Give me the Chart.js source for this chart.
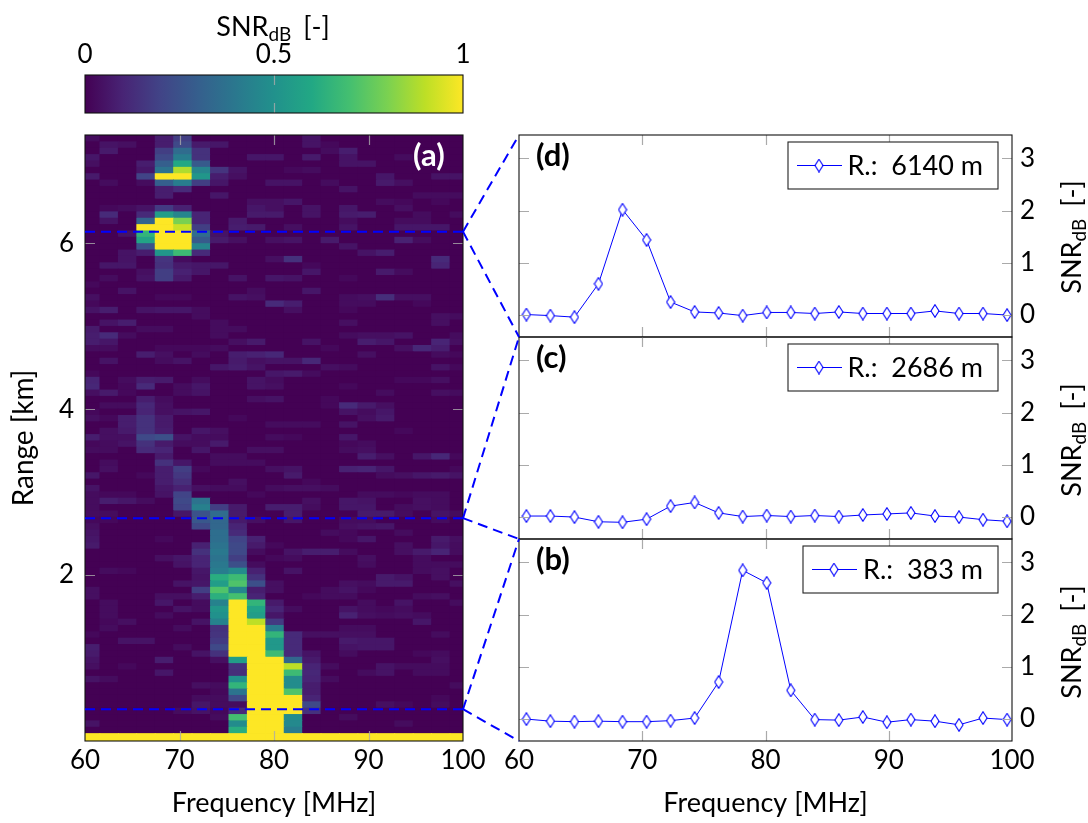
<!DOCTYPE html>
<html><head><meta charset="utf-8">
<script src="https://cdn.jsdelivr.net/npm/chart.js@4/dist/chart.umd.min.js"></script>
<style>
html,body{margin:0;padding:0;background:#fff;width:1088px;height:823px;overflow:hidden}
canvas{position:absolute}
.lab{position:absolute;font:27px Lato,sans-serif;color:#000;white-space:nowrap;transform-origin:center;z-index:5;word-spacing:5px}
.lab sub{font-size:19px;line-height:0;vertical-align:-5px}
</style></head><body>
<canvas id="cbar" style="left:0;top:40px;width:485px;height:83px"></canvas>
<canvas id="heat" style="left:0;top:125px;width:485px;height:698px"></canvas>
<canvas id="pd" style="left:490px;top:125px;width:598px;height:222px"></canvas>
<canvas id="pc" style="left:490px;top:327px;width:598px;height:222px"></canvas>
<canvas id="pb" style="left:490px;top:529px;width:598px;height:294px"></canvas>
<canvas id="over" style="left:0;top:0;width:1088px;height:823px;z-index:4;pointer-events:none"></canvas>
<div class="lab" style="left:273px;top:25px;transform:translate(-50%,-50%)">SNR<sub>dB</sub> [-]</div>
<div class="lab" style="left:1070px;top:237px;transform:translate(-50%,-50%) rotate(-90deg)">SNR<sub>dB</sub> [-]</div>
<div class="lab" style="left:1070px;top:440px;transform:translate(-50%,-50%) rotate(-90deg)">SNR<sub>dB</sub> [-]</div>
<div class="lab" style="left:1070px;top:642px;transform:translate(-50%,-50%) rotate(-90deg)">SNR<sub>dB</sub> [-]</div>
<script>
// ---- data ----
const freqMHz = [60.6,62.55,64.5,66.45,68.4,70.35,72.3,74.25,76.2,78.15,80.1,82.05,84,85.95,87.9,89.85,91.8,93.75,95.7,97.65,99.6];
const snr6140 = [0.01,-0.01,-0.04,0.6,2.02,1.44,0.25,0.06,0.04,-0.01,0.05,0.05,0.03,0.06,0.03,0.03,0.03,0.08,0.03,0.03,0];
const snr2686 = [0.02,0.02,0,-0.09,-0.1,-0.04,0.21,0.28,0.08,0.01,0.03,0.01,0.03,0.01,0.04,0.06,0.08,0.02,0,-0.05,-0.08];
const snr383 = [0,-0.04,-0.05,-0.04,-0.05,-0.05,-0.03,0.02,0.71,2.85,2.61,0.55,-0.01,-0.02,0.04,-0.06,-0.01,-0.04,-0.11,0.02,-0.01];
const freqTicks = [60,70,80,90,100];
const rangeTicks = [2,4,6];
const snrTicks = [0,1,2,3];
const barTicks = [0,0.5,1];
const cutRangesKm = [6.14,2.686,0.383];
// heat map cell values in percent of full scale, top row first, one column per freqMHz entry
const heatRows = [
[3,0,0,0,8,18,0,0,0,0,0,0,5,0,0,0,0,0,0,0,0],
[0,5,4,0,8,22,7,6,0,0,0,0,5,2,0,0,0,0,0,0,0],
[0,7,0,0,18,35,14,0,0,0,0,0,0,3,8,0,0,0,0,0,0],
[6,0,0,0,22,42,14,0,0,6,6,0,7,0,5,0,0,3,0,0,0],
[4,0,0,8,30,60,28,0,0,0,0,0,0,0,5,5,0,0,0,0,0],
[0,0,0,6,38,88,45,15,5,0,0,2,3,0,0,0,0,0,0,0,0],
[7,0,0,20,100,100,52,8,4,0,0,0,0,0,0,0,6,0,0,5,5],
[0,3,0,3,30,42,18,6,0,0,5,5,0,3,0,0,7,4,0,0,0],
[0,0,0,0,8,12,0,0,0,0,0,0,0,0,5,0,0,0,0,0,0],
[0,0,0,0,8,0,0,6,0,0,0,0,0,0,0,0,0,0,3,3,3],
[0,0,0,0,0,0,0,0,0,4,4,6,0,0,0,0,3,2,0,2,0],
[0,2,3,5,17,9,0,0,0,6,4,0,5,0,6,0,0,4,0,0,0],
[0,12,0,12,55,45,10,0,0,7,7,0,5,0,7,8,0,0,3,0,3],
[0,5,0,32,100,80,10,0,7,0,0,0,0,0,3,0,0,3,3,0,0],
[0,0,0,100,100,92,18,0,8,7,0,4,0,0,5,0,0,6,6,6,0],
[0,0,5,65,100,100,35,5,0,0,0,0,0,0,0,0,0,0,0,0,0],
[0,0,0,58,100,100,28,7,4,0,4,5,0,7,0,0,0,9,3,0,0],
[0,0,0,25,100,100,45,0,0,0,0,0,0,0,5,0,0,0,0,0,0],
[0,0,5,8,52,68,12,0,0,0,0,0,0,0,0,5,8,0,0,0,0],
[0,0,5,0,15,3,0,0,0,0,4,14,0,0,0,0,0,0,0,12,0],
[0,6,6,0,14,7,6,6,0,0,0,0,2,0,0,0,0,0,0,10,0],
[0,0,0,4,18,9,6,0,0,0,0,0,6,0,0,0,7,3,0,0,0],
[0,3,0,5,18,7,0,0,5,0,6,5,0,0,2,0,0,0,0,0,0],
[2,0,0,0,0,0,0,0,0,0,0,0,0,0,0,0,0,0,0,0,0],
[0,0,5,0,0,0,0,0,0,3,0,0,6,0,0,0,0,0,0,0,0],
[4,0,0,0,2,2,0,0,5,4,0,0,0,0,3,4,13,4,4,0,0],
[2,0,0,0,0,0,0,0,0,0,12,8,0,0,3,3,0,0,2,0,0],
[5,8,0,5,6,6,3,0,0,0,0,4,0,0,2,0,0,0,0,0,0],
[0,0,0,0,0,0,3,0,0,0,0,0,0,0,0,0,0,0,0,4,3],
[0,5,8,0,0,0,0,3,0,0,0,0,0,0,4,0,0,0,0,4,0],
[7,0,0,3,3,0,0,3,3,0,0,0,0,0,0,0,0,0,0,0,0],
[8,12,3,0,0,0,0,3,0,0,0,0,0,0,3,4,4,5,0,0,3],
[8,6,0,0,0,0,0,0,4,7,0,0,5,0,0,8,6,0,0,10,4],
[3,3,0,0,2,2,2,3,0,0,0,0,0,2,0,0,0,4,11,8,0],
[0,0,0,8,4,0,3,0,8,9,11,0,0,0,0,4,0,0,0,3,2],
[0,5,0,0,3,5,0,0,7,4,5,5,11,0,0,0,0,0,0,0,0],
[0,0,0,0,0,0,0,6,8,5,0,0,0,4,3,0,0,0,0,5,2],
[2,0,0,0,0,0,0,0,0,0,6,7,3,0,0,0,0,0,0,0,0],
[10,0,3,8,7,0,3,0,0,5,3,0,0,0,0,0,0,2,2,4,0],
[11,0,2,12,0,3,6,0,0,5,4,0,0,0,2,0,0,0,0,0,0],
[4,7,2,0,0,3,5,0,0,0,0,0,0,0,0,0,3,0,0,4,3],
[0,0,0,8,3,0,0,0,0,4,5,0,0,2,0,0,0,0,0,0,0],
[0,3,3,11,4,0,0,0,0,0,0,0,0,2,12,7,4,0,0,0,0],
[2,0,0,10,4,5,6,0,0,0,0,0,0,0,5,3,6,0,0,0,0],
[4,2,8,14,7,0,0,0,2,0,0,0,0,0,0,4,7,0,0,0,0],
[0,0,8,14,7,0,0,0,0,0,3,3,3,0,5,0,0,0,0,0,0],
[0,4,7,14,8,0,6,4,0,0,0,0,0,0,0,0,0,2,0,0,0],
[8,4,4,22,24,5,3,3,0,0,3,2,0,0,6,0,0,0,0,0,0],
[2,3,5,14,7,3,3,7,0,0,0,0,0,0,2,3,0,0,0,0,0],
[3,3,0,12,10,0,6,0,0,4,4,0,0,0,3,4,0,0,0,0,0],
[0,0,0,0,7,0,0,3,3,0,0,0,0,0,0,8,4,0,6,11,2],
[0,3,0,0,14,6,0,3,3,3,0,0,0,0,0,0,0,0,0,0,0],
[0,4,0,0,8,18,2,0,0,0,4,5,0,0,9,10,6,0,0,0,2],
[6,0,0,2,8,16,0,0,0,0,0,7,0,0,0,0,3,4,6,7,5],
[0,0,0,0,8,13,0,0,4,0,0,0,2,0,0,0,0,0,0,0,0],
[5,0,0,0,6,9,4,3,3,0,3,4,4,3,0,0,0,0,0,0,0],
[3,2,2,0,5,20,0,0,0,2,0,0,0,0,0,3,3,2,3,3,0],
[3,8,6,3,0,22,38,0,0,0,0,0,4,0,6,5,0,0,4,3,0],
[3,0,0,0,0,20,43,18,7,0,8,8,3,0,6,6,0,3,4,3,0],
[3,3,0,0,0,6,25,35,7,0,0,8,0,0,0,7,7,3,0,5,3],
[2,2,0,0,0,0,27,33,7,4,0,6,0,0,3,3,0,0,0,3,0],
[4,0,0,0,0,0,22,33,10,0,0,0,0,0,4,5,6,0,0,0,0],
[5,0,0,0,0,0,0,36,12,0,0,0,0,3,2,0,0,3,0,0,0],
[6,0,0,0,2,0,0,36,20,9,0,0,0,0,2,6,0,0,0,7,4],
[7,0,0,0,0,0,9,38,22,7,2,0,0,0,0,0,0,4,0,6,3],
[0,0,0,0,0,0,14,40,22,3,0,5,8,8,3,0,0,4,7,10,3],
[0,0,0,0,4,6,10,38,18,0,2,3,0,0,0,4,0,0,3,0,0],
[0,0,0,0,0,5,10,40,24,3,0,0,0,0,0,3,0,0,3,3,3],
[0,3,2,0,0,0,6,42,48,9,0,5,0,0,0,0,0,0,3,4,0],
[0,0,0,0,0,0,5,62,68,14,0,0,0,0,0,0,7,5,0,4,0],
[0,0,0,0,0,5,6,55,72,24,4,0,0,0,4,3,7,7,0,0,4],
[4,0,0,0,0,0,18,72,46,8,4,0,0,3,5,2,0,0,0,0,0],
[4,0,0,0,4,4,8,63,70,10,0,0,2,3,3,0,0,0,3,4,0],
[0,3,0,0,6,0,3,44,100,65,7,0,0,0,0,3,0,5,0,0,3],
[0,3,0,0,0,5,3,52,100,58,10,3,0,0,5,3,2,3,0,0,0],
[0,3,0,0,3,0,0,50,100,55,6,0,0,0,9,4,3,4,3,0,0],
[0,2,4,0,0,0,5,44,100,90,17,0,0,0,0,0,0,0,6,0,0],
[0,3,0,0,0,3,0,14,100,100,42,0,0,0,3,3,0,0,0,0,0],
[2,0,0,0,0,0,0,15,100,100,65,12,4,4,4,4,0,0,0,3,0],
[0,0,5,5,0,0,0,17,100,100,53,12,0,0,7,6,6,0,0,0,0],
[8,0,0,0,0,3,0,22,100,100,53,12,0,0,5,6,6,0,0,0,0],
[7,0,0,0,0,0,5,14,100,100,68,12,5,0,3,0,0,0,2,3,0],
[5,0,0,0,8,0,0,4,55,100,100,33,7,0,0,0,0,0,0,4,0],
[4,0,2,0,0,0,0,0,14,100,100,90,10,3,0,0,5,3,3,3,0],
[0,0,0,0,6,0,0,0,13,100,100,68,11,0,0,3,5,0,3,3,0],
[5,3,0,0,0,0,0,0,50,100,100,48,10,3,0,0,0,0,0,0,0],
[0,0,0,0,0,0,4,3,65,100,100,48,8,0,0,0,0,0,0,0,3],
[0,0,0,0,0,0,0,2,38,100,100,72,8,0,0,0,0,0,0,0,0],
[0,0,0,0,0,0,3,3,22,100,100,100,10,0,0,0,0,0,0,2,0],
[0,0,0,0,0,0,6,3,3,100,100,100,22,0,0,0,4,2,0,3,0],
[0,0,0,0,0,3,5,2,12,100,100,100,14,0,0,0,0,0,0,0,0],
[0,0,0,0,0,0,0,3,70,100,100,48,0,0,3,0,0,0,0,0,0],
[5,0,0,0,0,0,0,0,48,100,100,47,0,0,0,0,0,3,0,0,0],
[0,0,0,0,0,0,0,0,62,100,100,42,0,0,0,0,0,0,0,0,0],
[100,100,100,100,100,100,100,100,100,100,100,100,100,100,100,100,100,100,100,100,100]
];
const viridisStops = ['#440154','#482475','#414487','#355f8d','#2a788e','#21918c','#22a884','#44bf70','#7ad151','#bddf26','#fde725'];

// ---- helpers ----
const FONT = 'Lato, sans-serif';
const tickFont = {family:FONT,size:26,lineHeight:1.1};
const titleFont = {family:FONT,size:27};
const rowHeightKm = 0.0767, bottomRowKm = 0.09, rangeMaxKm = 7.305;
Chart.defaults.animation = false;
Chart.defaults.responsive = false;
Chart.defaults.events = [];
Chart.defaults.plugins.legend.display = false;
Chart.defaults.plugins.tooltip.enabled = false;

function hexRgb(h){return [1,3,5].map(i=>parseInt(h.substr(i,2),16));}
function viridis(pct){
  const p = Math.max(0,Math.min(1,pct/100))*(viridisStops.length-1);
  const i = Math.min(Math.floor(p),viridisStops.length-2), f = p-i;
  const a = hexRgb(viridisStops[i]), b = hexRgb(viridisStops[i+1]);
  return 'rgb('+a.map((v,k)=>Math.round(v+(b[k]-v)*f)).join(',')+')';
}
function sizeCanvas(id){const c=document.getElementById(id);c.width=parseInt(c.style.width);c.height=parseInt(c.style.height);return c;}

function setTicks(list){return s=>{s.ticks=list.map(value=>({value}));};}
function fixBox(s,w,h){
  if(w!==null) s.width=w;
  if(h!==null) s.height=h;
  s.paddingLeft=s.paddingRight=s.paddingTop=s.paddingBottom=0;
}
function axis(o){
  return Object.assign({
    offset:false,
    grid:{display:false,drawTicks:false,offset:false},
    border:{display:false},
  },o);
}
function tickStyle(padding){return {font:tickFont,color:'#000',padding,autoSkip:false,maxRotation:0,minRotation:0,callback:v=>String(v)};}

// inner grey ticks + frame
const framePlugin = {
  id:'frame',
  afterDatasetsDraw(chart,args,o){
    const {ctx,chartArea:a,scales}=chart;
    ctx.save();
    ctx.lineWidth=1.2; ctx.strokeStyle=o.tickColor;
    const L=o.len||10;
    ctx.beginPath();
    (o.xTicks||[]).forEach(v=>{const x=Math.round(scales.x.getPixelForValue(v))+.5;
      ctx.moveTo(x,a.top);ctx.lineTo(x,a.top+L);ctx.moveTo(x,a.bottom);ctx.lineTo(x,a.bottom-L);});
    (o.yTicks||[]).forEach(v=>{const y=Math.round(scales.y.getPixelForValue(v))+.5;
      ctx.moveTo(a.left,y);ctx.lineTo(a.left+L,y);ctx.moveTo(a.right,y);ctx.lineTo(a.right-L,y);});
    ctx.stroke();
    ctx.lineWidth=1.1; ctx.strokeStyle='#111';
    ctx.strokeRect(a.left,a.top,a.right-a.left,a.bottom-a.top);
    if(o.tag){
      ctx.font='bold 31px '+FONT; ctx.fillStyle=o.tagColor; ctx.textBaseline='middle';
      ctx.textAlign='left'; ctx.fillText(o.tag,a.left+o.tagX,a.top+o.tagY);
    }
    ctx.restore();
  }
};

// diamond marker
function diamondImage(){
  const c=document.createElement('canvas');c.width=10;c.height=14;
  const g=c.getContext('2d');
  g.beginPath();g.moveTo(5,.7);g.lineTo(9,7);g.lineTo(5,13.3);g.lineTo(1,7);g.closePath();
  g.fillStyle='#fff';g.fill();g.strokeStyle='#0000ff';g.lineWidth=1.1;g.stroke();
  return c;
}
const diamond = diamondImage();

// legend box
const legendPlugin = {
  id:'lbox',
  afterDraw(chart,args,o){
    const {ctx,chartArea:a}=chart;
    const r=a.right-14, l=r-o.width, t=a.top+7, h=47;
    ctx.save();
    ctx.fillStyle='#fff';ctx.fillRect(l,t,o.width,h);
    ctx.strokeStyle='#222';ctx.lineWidth=1.1;ctx.strokeRect(l,t,o.width,h);
    const cy=t+h/2;
    ctx.strokeStyle='#0000ff';ctx.lineWidth=1;
    ctx.beginPath();ctx.moveTo(l+9,cy);ctx.lineTo(l+54,cy);ctx.stroke();
    ctx.drawImage(diamond,l+31-5,cy-7);
    ctx.fillStyle='#000';ctx.font='27px '+FONT;ctx.textBaseline='middle';ctx.textAlign='right';
    ctx.fillText(chart.data.datasets[0].label,r-15,cy+1);
    ctx.restore();
  }
};

// ---- colour bar ----
const cbarPlugin = {
  id:'cbarfill',
  beforeDatasetsDraw(chart){
    const {ctx,chartArea:a,scales}=chart;
    const g=ctx.createLinearGradient(scales.x.getPixelForValue(0),0,scales.x.getPixelForValue(1),0);
    viridisStops.forEach((c,i)=>g.addColorStop(i/(viridisStops.length-1),c));
    ctx.fillStyle=g;ctx.fillRect(a.left,a.top,a.right-a.left,a.bottom-a.top);
  }
};
sizeCanvas('cbar');
new Chart('cbar',{type:'bar',data:{datasets:[{data:[]}]},plugins:[cbarPlugin,framePlugin],options:{
  layout:{autoPadding:false,padding:{left:85,right:22,top:0,bottom:10}},
  scales:{
    x:axis({type:'linear',position:'top',min:0,max:1,afterBuildTicks:setTicks(barTicks),ticks:tickStyle(6),afterFit(s){fixBox(s,null,35);}}),
    y:{display:false,min:0,max:1}
  },
  plugins:{frame:{tickColor:'rgba(170,170,170,.8)',xTicks:[0.5],len:10}}
}});

// ---- heat map ----
const heatPlugin = {
  id:'heatbg',
  beforeDatasetsDraw(chart){
    const {ctx,chartArea:a}=chart;
    ctx.fillStyle=viridisStops[0];ctx.fillRect(a.left,a.top,a.right-a.left,a.bottom-a.top);
  },
  afterDraw(chart){
    const {ctx,chartArea:a,scales}=chart;
    ctx.save();
    ctx.strokeStyle='#0000ff';ctx.lineWidth=2;ctx.setLineDash([10,6]);
    cutRangesKm.forEach(r=>{const y=scales.y.getPixelForValue(r);
      ctx.beginPath();ctx.moveTo(a.left,y);ctx.lineTo(a.right,y);ctx.stroke();});
    ctx.restore();
  }
};
const heatDatasets = heatRows.slice().reverse().map((row,i)=>({
  stack:'heat',
  data:freqMHz.map(f=>({x:f,y:i===0?bottomRowKm:rowHeightKm})),
  backgroundColor:row.map(viridis),
  barPercentage:1,categoryPercentage:1,borderWidth:0,inflateAmount:0.4
}));
sizeCanvas('heat');
const heatChart = new Chart('heat',{type:'bar',data:{datasets:heatDatasets},plugins:[heatPlugin,framePlugin],options:{
  layout:{autoPadding:false,padding:{left:0,right:22,top:10,bottom:0}},
  scales:{
    x:axis({type:'linear',position:'bottom',min:60,max:100,afterBuildTicks:setTicks(freqTicks),ticks:tickStyle(5),
      title:{display:true,text:'Frequency [MHz]',font:titleFont,color:'#000',padding:{top:0,bottom:4}},
      afterFit(s){fixBox(s,null,82);}}),
    y:axis({type:'linear',position:'left',stacked:true,min:0,max:rangeMaxKm,afterBuildTicks:setTicks(rangeTicks),ticks:tickStyle(11),
      title:{display:true,text:'Range [km]',font:{family:FONT,size:28},color:'#000',padding:{top:7,bottom:0}},
      afterFit(s){fixBox(s,85,null);}})
  },
  plugins:{frame:{tickColor:'rgba(170,170,170,.8)',xTicks:[70,80,90],yTicks:rangeTicks,len:10,tag:'(a)',tagColor:'#fff',tagX:328,tagY:21}}
}});

// ---- line panels ----
function panel(id,values,label,tag,legendWidth,showX){
  sizeCanvas(id);
  return new Chart(id,{type:'line',data:{datasets:[{
    label,
    data:freqMHz.map((f,i)=>({x:f,y:values[i]})),
    borderColor:'#0000ff',borderWidth:1,tension:0,
    pointStyle:diamond,pointRadius:5,clip:false
  }]},plugins:[framePlugin,legendPlugin],options:{
    layout:{autoPadding:false,padding:{left:29,right:0,top:10,bottom:showX?0:10}},
    scales:{
      x:axis({type:'linear',display:showX,position:'bottom',min:60,max:100,afterBuildTicks:setTicks(freqTicks),ticks:tickStyle(5),
        title:{display:true,text:'Frequency [MHz]',font:titleFont,color:'#000',padding:{top:0,bottom:4}},
        afterFit(s){fixBox(s,null,showX?82:0);}}),
      y:axis({type:'linear',position:'right',min:-0.42,max:3.45,afterBuildTicks:setTicks(snrTicks),ticks:tickStyle(8),
        afterFit(s){fixBox(s,76,null);}})
    },
    plugins:{frame:{tickColor:'#aaa',xTicks:[70,80,90],yTicks:snrTicks,len:10,tag,tagColor:'#000',tagX:17,tagY:21},lbox:{width:legendWidth}}
  }});
}
const chartD = panel('pd',snr6140,'R.:  6140 m','(d)',210,false);
const chartC = panel('pc',snr2686,'R.:  2686 m','(c)',210,false);
const chartB = panel('pb',snr383,'R.:  383 m','(b)',195,true);

// ---- connector lines from the heat map to the panels ----
(function(){
  const over=sizeCanvas('over'), g=over.getContext('2d');
  const hOff=parseInt(heatChart.canvas.style.top);
  const pairs=[[cutRangesKm[0],chartD],[cutRangesKm[1],chartC],[cutRangesKm[2],chartB]];
  g.strokeStyle='#0000ff';g.lineWidth=2;g.setLineDash([10,6]);
  pairs.forEach(([r,ch])=>{
    const x0=heatChart.chartArea.right, y0=heatChart.scales.y.getPixelForValue(r)+hOff;
    const off=parseInt(ch.canvas.style.top), lo=parseInt(ch.canvas.style.left);
    const x1=ch.chartArea.left+lo;
    [ch.chartArea.top+off,ch.chartArea.bottom+off].forEach(y1=>{
      g.beginPath();g.moveTo(x0,y0);g.lineTo(x1,y1);g.stroke();
    });
  });
})();
</script>
</body></html>
